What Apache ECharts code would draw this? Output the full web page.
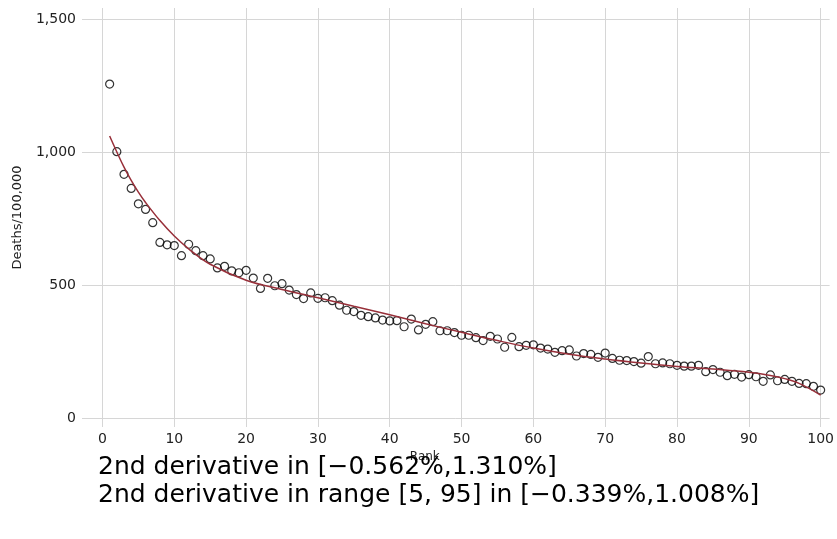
<!DOCTYPE html>
<html>
<head>
<meta charset="utf-8">
<script src="https://cdn.jsdelivr.net/npm/echarts@6/dist/echarts.min.js"></script>
<style>html,body{margin:0;padding:0;background:#fff}#c{width:837px;height:539px}</style>
</head>
<body>
<div id="c"></div>
<script>
const ranks = [1,2,3,4,5,6,7,8,9,10,11,12,13,14,15,16,17,18,19,20,21,22,23,24,25,26,27,28,29,30,31,32,33,34,35,36,37,38,39,40,41,42,43,44,45,46,47,48,49,50,51,52,53,54,55,56,57,58,59,60,61,62,63,64,65,66,67,68,69,70,71,72,73,74,75,76,77,78,79,80,81,82,83,84,85,86,87,88,89,90,91,92,93,94,95,96,97,98,99,100];
const deaths = [1255,1001,916,863,805,784,734,660,651,648,610,653,629,610,598,564,570,553,546,555,526,487,525,497,505,481,464,449,470,450,452,441,424,405,400,386,381,376,368,365,366,343,372,331,352,362,328,328,321,311,311,302,291,307,297,266,303,268,273,275,263,259,247,253,256,233,242,239,228,244,224,217,216,212,206,231,204,207,204,198,195,195,198,174,182,172,159,164,154,163,155,138,162,140,145,138,130,129,119,105];
const fitRanks = [1,2,3,4,5,6,8,10,12,15,20,25,30,35,40,45,50,55,60,65,70,75,80,85,90,93,95,97,100];
const fitValues = [1060,1000,943,893,849,810,742,684,636,578,518,483,452,420,388,354,322,291,263,240,222,207,194,184,172,160,148,130,86];
const yTicks = [0,500,1000,1500];
const xTicks = [0,10,20,30,40,50,60,70,80,90,100];
const note1 = '2nd derivative in [\u22120.562%,1.310%]';
const note2 = '2nd derivative in range [5, 95] in [\u22120.339%,1.008%]';

const FONT = 'DejaVu Sans';
const chart = echarts.init(document.getElementById('c'), null, {renderer: 'canvas'});
const gridColor = '#d6d6d6';
chart.setOption({
  animation: false,
  backgroundColor: '#ffffff',
  textStyle: {fontFamily: FONT, color: '#222'},
  title: [
    {text: note1, left: 93, top: 450, textStyle: {fontFamily: FONT, fontSize: 25, fontWeight: 'normal', color: '#000'}},
    {text: note2, left: 93, top: 478, textStyle: {fontFamily: FONT, fontSize: 25, fontWeight: 'normal', color: '#000'}}
  ],
  grid: {left: 82, right: 7, top: 8, bottom: 112, containLabel: false},
  xAxis: {
    type: 'value', min: -2.85, max: 101.25,
    name: 'Rank', nameLocation: 'middle', nameGap: 16,
    nameTextStyle: {fontFamily: FONT, fontSize: 12, color: '#222', padding: [0, 62, 0, 0]},
    axisLine: {show: false},
    axisTick: {show: false, customValues: xTicks},
    axisLabel: {customValues: xTicks, fontFamily: FONT, fontSize: 14, color: '#222', margin: 5},
    splitLine: {show: true, lineStyle: {color: gridColor, width: 1}}
  },
  yAxis: {
    type: 'value', min: -33.8, max: 1541,
    name: 'Deaths/100,000', nameLocation: 'middle', nameGap: 58,
    nameTextStyle: {fontFamily: FONT, fontSize: 13, color: '#222'},
    axisLine: {show: false},
    axisTick: {show: false, customValues: yTicks},
    axisLabel: {customValues: yTicks, fontFamily: FONT, fontSize: 14, color: '#222', margin: 6,
      formatter: v => v.toLocaleString('en-US')},
    splitLine: {show: true, lineStyle: {color: gridColor, width: 1}}
  },
  series: [
    {
      type: 'scatter',
      data: ranks.map((r, i) => [r, deaths[i]]),
      symbol: 'circle', symbolSize: 8,
      itemStyle: {color: 'rgba(255,255,255,0)', borderColor: '#000', borderWidth: 1.2},
      z: 2
    },
    {
      type: 'line',
      data: fitRanks.map((r, i) => [r, fitValues[i]]),
      smooth: 0.4, showSymbol: false,
      lineStyle: {color: '#98303a', width: 1.5},
      z: 3
    }
  ]
});
</script>
</body>
</html>
